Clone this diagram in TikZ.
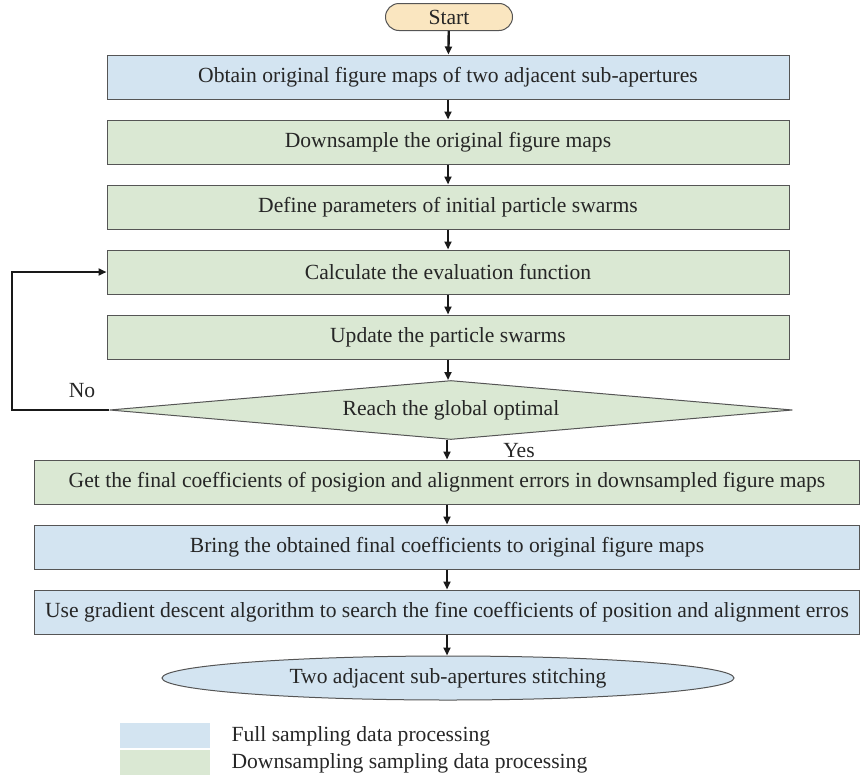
\documentclass[tikz,border=0pt]{standalone}
\usepackage{fontspec}
\setmainfont{Liberation Serif}
\usetikzlibrary{shapes.geometric,shapes.misc,arrows.meta}
\definecolor{fullblue}{HTML}{D3E4F1}
\definecolor{downgreen}{HTML}{DAE8D3}
\definecolor{starttan}{HTML}{FAE6C0}
\definecolor{edgegray}{HTML}{555555}
\begin{document}
\begin{tikzpicture}[x=1pt,y=-1pt,
    every node/.style={font=\fontsize{21.6}{24}\selectfont,text=black!85},
    boxfull/.style={draw=edgegray,line width=1pt,fill=fullblue,minimum height=44pt,inner sep=0pt},
    boxdown/.style={draw=edgegray,line width=1pt,fill=downgreen,minimum height=44pt,inner sep=0pt},
    flow/.style={-{Triangle[length=8pt,width=7pt]},line width=2.4pt,black!90}]
    \useasboundingbox (0,0) rectangle (864,779);
    % steps
    \node [draw=edgegray,line width=1pt,fill=starttan,rounded rectangle,minimum width=127pt,minimum height=27pt,inner sep=0pt] (start) at (449,17) {Start};
    \node [boxfull,minimum width=682pt] (obtain) at (448,77) {Obtain original figure maps of two adjacent sub-apertures};
    \node [boxdown,minimum width=682pt] (downs) at (448,142) {Downsample the original figure maps};
    \node [boxdown,minimum width=682pt] (define) at (448,207) {Define parameters of initial particle swarms};
    \node [boxdown,minimum width=682pt] (calc) at (448,272) {Calculate the evaluation function};
    \node [boxdown,minimum width=682pt] (update) at (448,337) {Update the particle swarms};
    \node [draw=edgegray,line width=1pt,fill=downgreen,diamond,aspect=11,minimum width=683pt,minimum height=59pt,inner sep=0pt] (reach) at (451,410) {Reach the global optimal};
    \node [boxdown,minimum width=825pt] (getfin) at (447,482) {Get the final coefficients of posigion and alignment errors in downsampled figure maps};
    \node [boxfull,minimum width=825pt] (bring) at (447,547) {Bring the obtained final coefficients to original figure maps};
    \node [boxfull,minimum width=825pt] (grad) at (447,612) {Use gradient descent algorithm to search the fine coefficients of position and alignment erros};
    \node [draw=edgegray,line width=1pt,fill=fullblue,ellipse,minimum width=572pt,minimum height=44pt,inner sep=0pt] (stitch) at (448,678) {Two adjacent sub-apertures stitching};
    % arrows
    \draw [flow] (start) -- (obtain);
    \draw [flow] (obtain) -- (downs);
    \draw [flow] (downs) -- (define);
    \draw [flow] (define) -- (calc);
    \draw [flow] (calc) -- (update);
    \draw [flow] (update.south) -- (update.south |- reach.north);
    \draw [flow] (reach.south -| getfin.north) -- (getfin);
    \draw [flow] (getfin) -- (bring);
    \draw [flow] (bring) -- (grad);
    \draw [flow] (grad.south) -- (grad.south |- stitch.north);
    \coordinate (loopbot) at (12,410);
    \coordinate (looptop) at (12,272);
    \draw [flow,line width=2pt] (reach.west) -- (loopbot) -- (looptop) -- (calc.west);
    \node (no) at (82,391) {No};
    \node (yes) at (519,451) {Yes};
    % legend
    \fill [fullblue] (120,723) rectangle (210,748);
    \fill [downgreen] (120,750) rectangle (210,775);
    \node [anchor=west] (legfull) at (228,736) {Full sampling data processing};
    \node [anchor=west] (legdown) at (228,763) {Downsampling sampling data processing};
\end{tikzpicture}
\end{document}
